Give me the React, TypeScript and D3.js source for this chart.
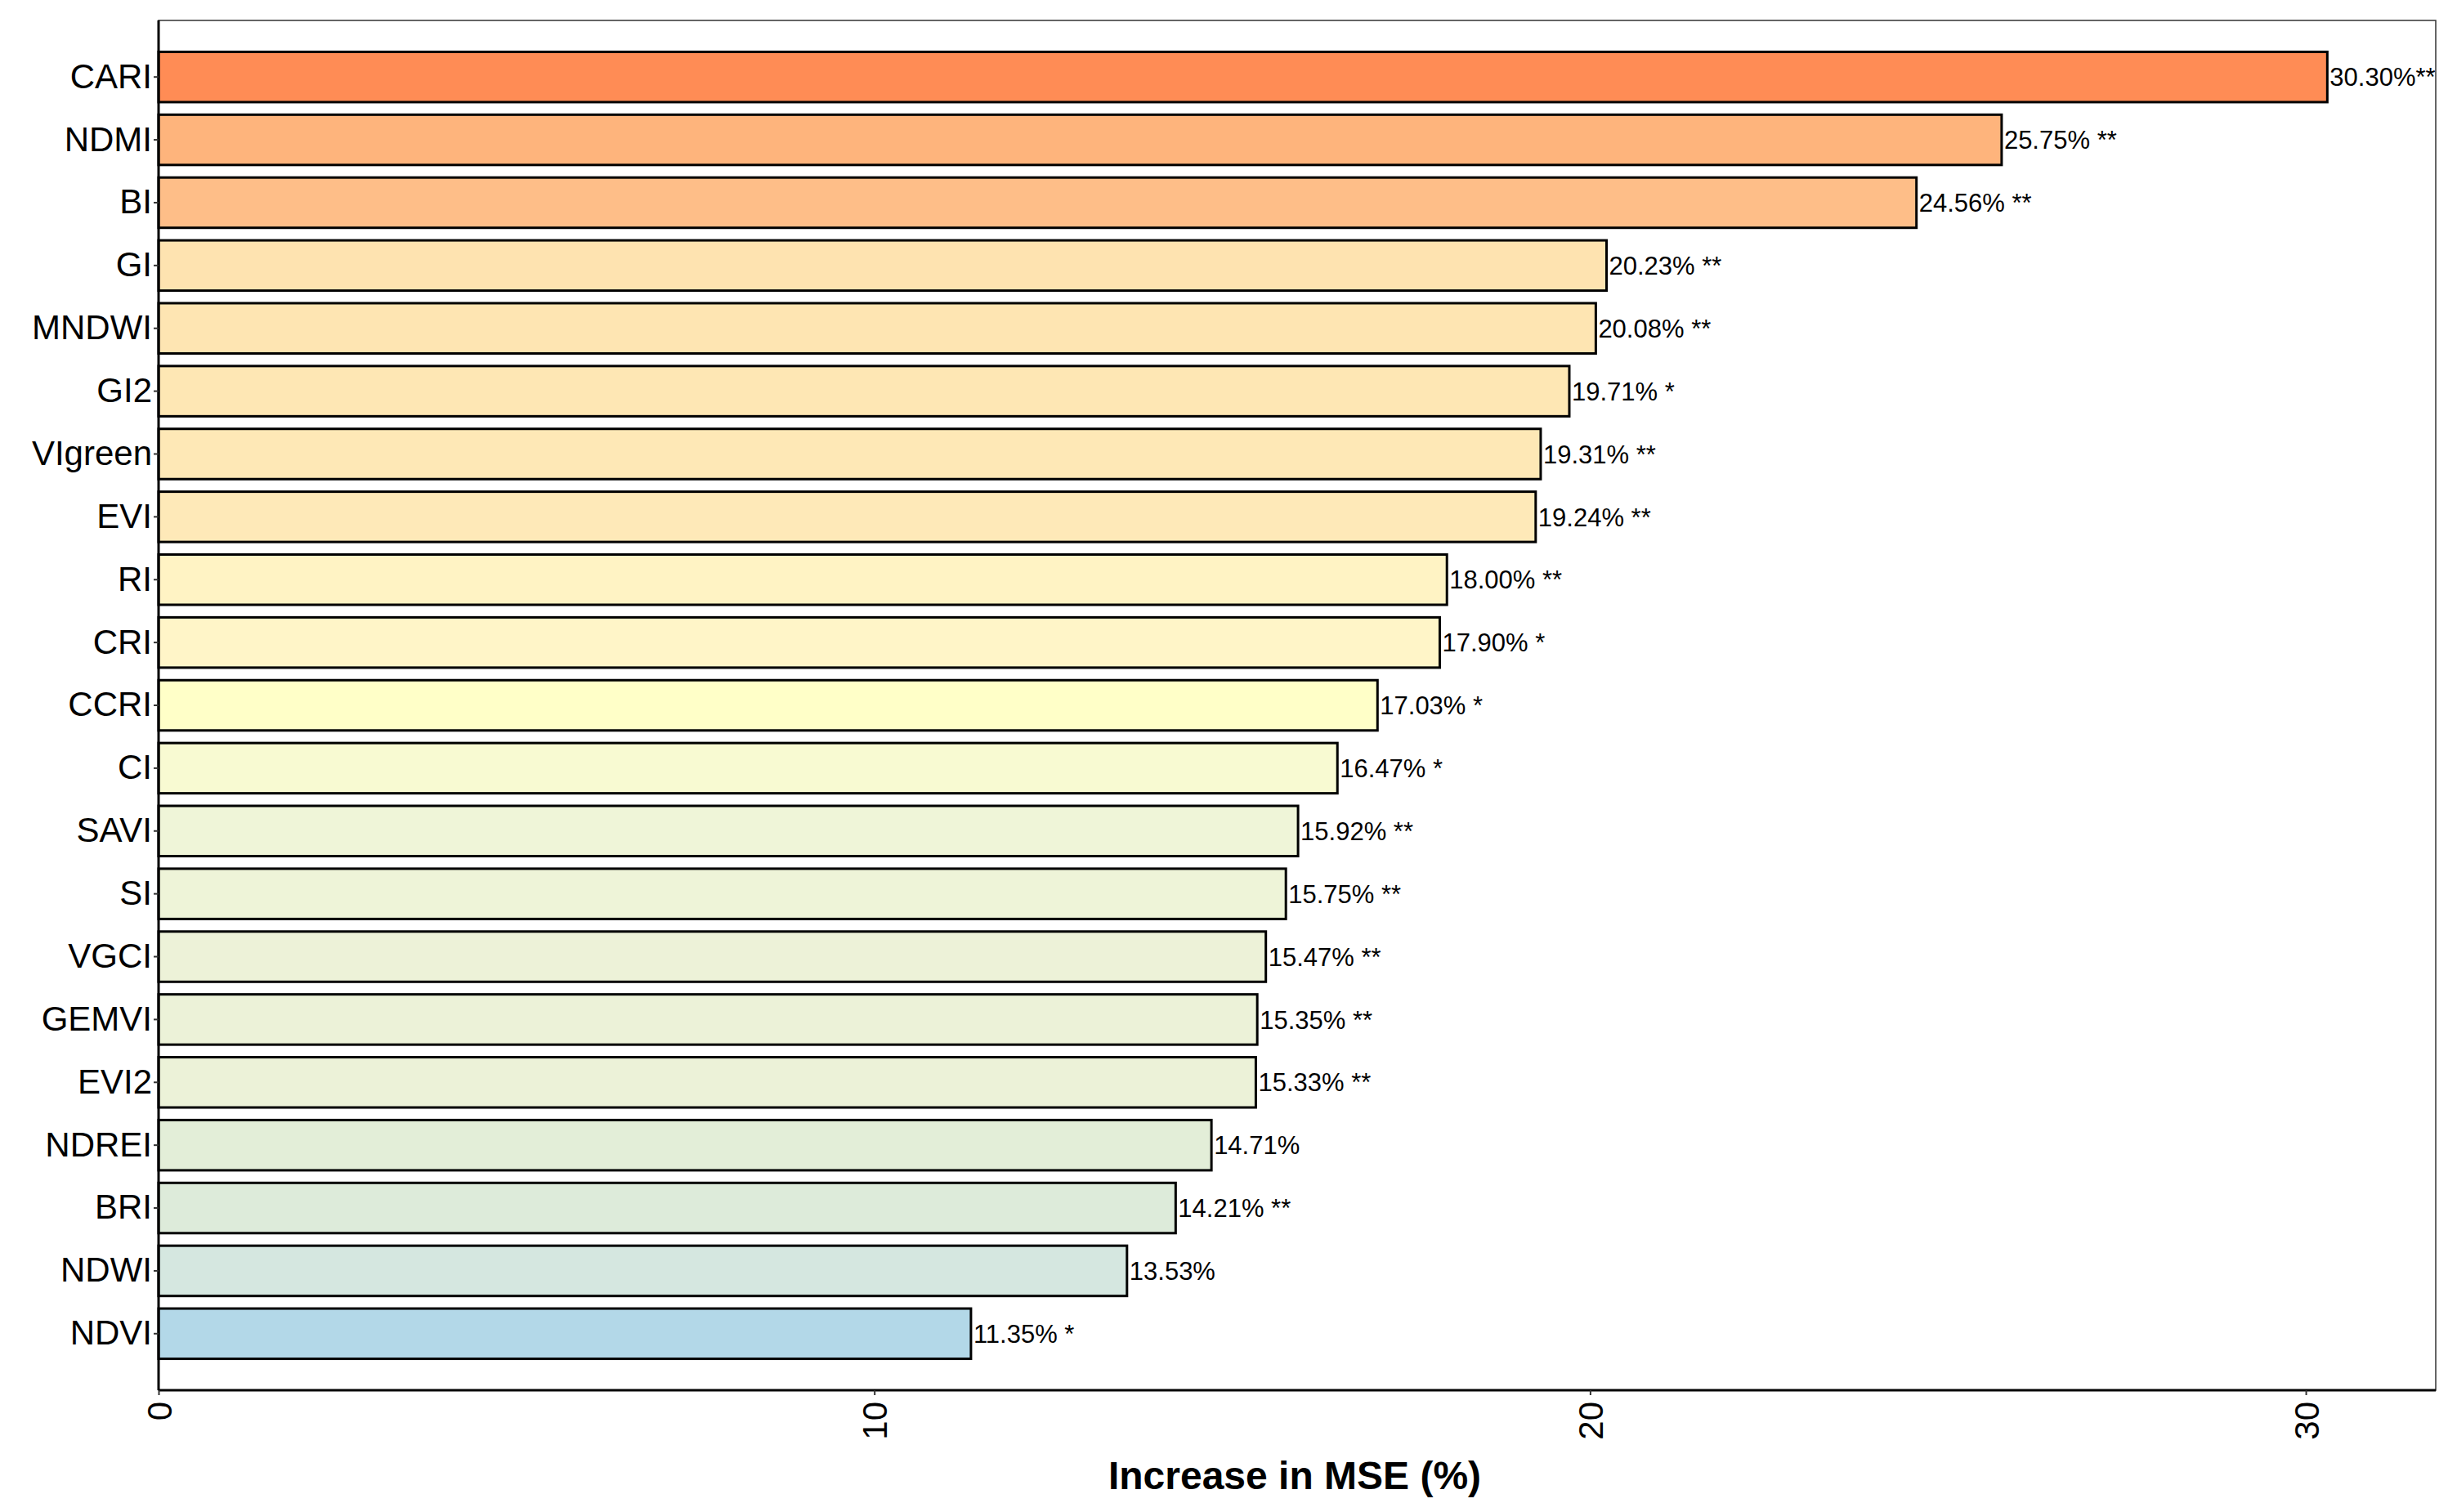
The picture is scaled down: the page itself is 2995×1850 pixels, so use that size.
import React, { useEffect, useRef } from 'react';
import * as d3 from 'd3';

const categories = ['CARI', 'NDMI', 'BI', 'GI', 'MNDWI', 'GI2', 'VIgreen', 'EVI', 'RI', 'CRI', 'CCRI', 'CI', 'SAVI', 'SI', 'VGCI', 'GEMVI', 'EVI2', 'NDREI', 'BRI', 'NDWI', 'NDVI'];
const values = [30.30, 25.75, 24.56, 20.23, 20.08, 19.71, 19.31, 19.24, 18.00, 17.90, 17.03, 16.47, 15.92, 15.75, 15.47, 15.35, 15.33, 14.71, 14.21, 13.53, 11.35];
const stars = ['**', ' **', ' **', ' **', ' **', ' *', ' **', ' **', ' **', ' *', ' *', ' *', ' **', ' **', ' **', ' **', ' **', '', ' **', '', ' *'];
const fills = ['#FF8C55', '#FEB47C', '#FEBE88', '#FEE3B0', '#FEE5B2', '#FEE7B4', '#FEE8B6', '#FEE9B8', '#FFF3C4', '#FFF5C8', '#FFFFC8', '#F8FAD2', '#EFF5D8', '#EEF4D8', '#EDF2D8', '#ECF2D8', '#ECF2D8', '#E3EED8', '#DDEBDA', '#D5E7E0', '#B3D8E8'];
const xTicks = [0, 10, 20, 30];

const App: React.FC = () => {
  const ref = useRef<SVGSVGElement>(null);

  useEffect(() => {
    document.body.style.margin = '0';
    const width = 2995, height = 1850;
    const left = 194, right = 2980, top = 25, bottom = 1701;
    const font = 'Liberation Sans, Arial, sans-serif';

    const svg = d3.select(ref.current).attr('width', width).attr('height', height);
    svg.selectAll('*').remove();

    const x = d3.scaleLinear().domain([0, 30.30 * 1.05]).range([left, right]);
    const y = d3.scaleBand().domain(categories).range([top, bottom]).paddingInner(0.2).paddingOuter(0.6 - 0.1);

    svg.append('rect').attr('width', width).attr('height', height).attr('fill', 'white');

    // bars
    svg.selectAll('rect.bar')
      .data(categories)
      .enter().append('rect')
      .attr('class', 'bar')
      .attr('x', x(0))
      .attr('y', d => y(d)!)
      .attr('width', (d, i) => x(values[i]) - x(0))
      .attr('height', y.bandwidth())
      .attr('fill', (d, i) => fills[i])
      .attr('stroke', 'black')
      .attr('stroke-width', 3);

    // value labels
    svg.selectAll('text.val')
      .data(categories)
      .enter().append('text')
      .attr('x', (d, i) => x(values[i]) + 3)
      .attr('y', d => y(d)! + y.bandwidth() / 2)
      .attr('dy', '0.36em')
      .attr('font-family', font)
      .attr('font-size', 31)
      .text((d, i) => values[i].toFixed(2) + '%' + stars[i]);

    // panel border
    svg.append('rect')
      .attr('x', left).attr('y', top)
      .attr('width', right - left).attr('height', bottom - top)
      .attr('fill', 'none').attr('stroke', '#333').attr('stroke-width', 1.5);
    svg.append('line').attr('x1', left).attr('x2', left).attr('y1', top).attr('y2', bottom).attr('stroke', 'black').attr('stroke-width', 3);
    svg.append('line').attr('x1', left).attr('x2', right).attr('y1', bottom).attr('y2', bottom).attr('stroke', 'black').attr('stroke-width', 3);

    // y axis
    const yAxis = svg.append('g').attr('transform', `translate(${left},0)`)
      .call(d3.axisLeft(y).tickSize(6).tickPadding(2));
    yAxis.select('.domain').remove();
    yAxis.selectAll('line').attr('stroke', '#333').attr('stroke-width', 2);
    yAxis.selectAll('text').attr('font-family', font).attr('font-size', 42).attr('fill', 'black');

    // x axis
    const xAxis = svg.append('g').attr('transform', `translate(0,${bottom})`)
      .call(d3.axisBottom(x).tickValues(xTicks).tickFormat(d3.format('d')).tickSize(6));
    xAxis.select('.domain').remove();
    xAxis.selectAll('line').attr('stroke', '#333').attr('stroke-width', 2);
    xAxis.selectAll('text')
      .attr('font-family', font).attr('font-size', 42).attr('fill', 'black')
      .attr('transform', 'rotate(-90)')
      .attr('text-anchor', 'end')
      .attr('x', -14).attr('y', 0).attr('dy', '0.36em');

    svg.append('text')
      .attr('x', 1584).attr('y', 1822)
      .attr('text-anchor', 'middle')
      .attr('font-family', font).attr('font-size', 48).attr('font-weight', 'bold')
      .text('Increase in MSE (%)');
  }, []);

  return <svg ref={ref}></svg>;
};

export default App;
